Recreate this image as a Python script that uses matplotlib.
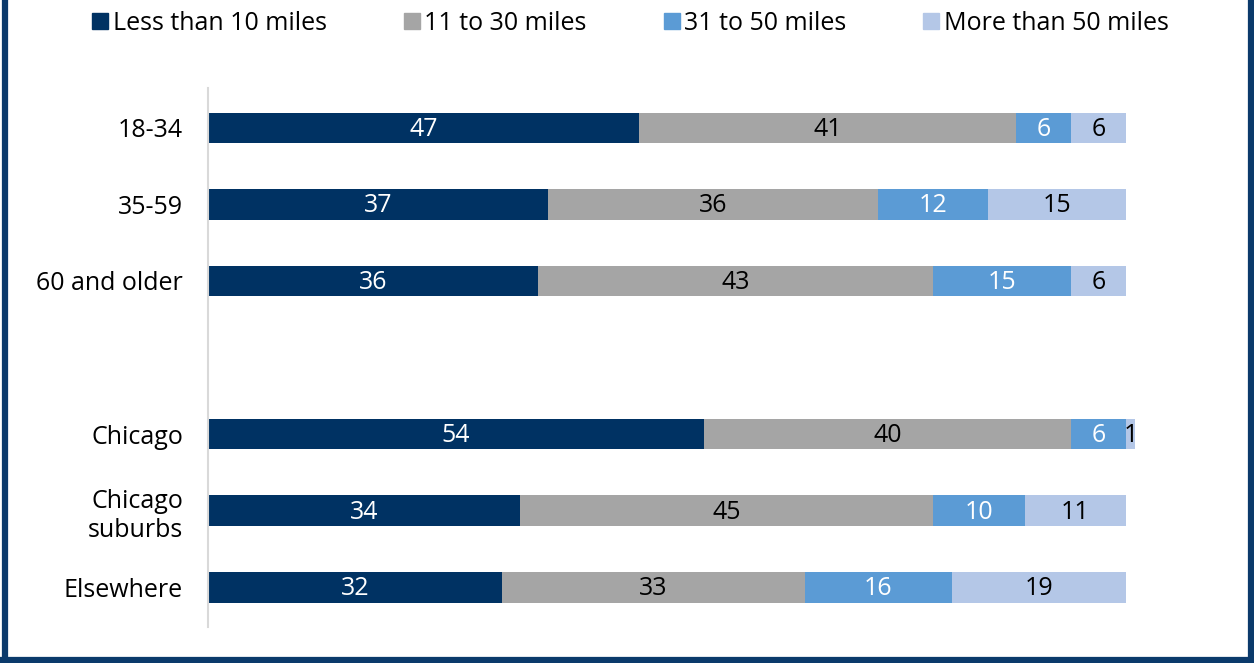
import numpy as np
import matplotlib.pyplot as plt
from matplotlib.lines import Line2D

plt.rcParams['font.family'] = ['Open Sans', 'DejaVu Sans']

categories = ['18-34', '35-59', '60 and older', '', 'Chicago', 'Chicago\nsuburbs', 'Elsewhere']
series_names = ['Less than 10 miles', '11 to 30 miles', '31 to 50 miles', 'More than 50 miles']
less_10 = [47, 37, 36, None, 54, 34, 32]
m11_30 = [41, 36, 43, None, 40, 45, 33]
m31_50 = [6, 12, 15, None, 6, 10, 16]
more_50 = [6, 15, 6, None, 1, 11, 19]

colors = ['#003263', '#a5a5a5', '#5b9bd5', '#b4c7e7']
text_colors = ['white', 'black', 'white', 'black']
fs = 18

W, H = 1254, 663
fig = plt.figure(figsize=(W / 100, H / 100), dpi=100)
ax = fig.add_axes([208 / W, 1 - 627 / H, 918 / W, (627 - 88) / H])

y = np.arange(len(categories))
left = np.zeros(len(categories))
for vals, col, tcol, name in zip([less_10, m11_30, m31_50, more_50], colors, text_colors, series_names):
    v = np.array([np.nan if a is None else a for a in vals], dtype=float)
    bars = ax.barh(y, np.nan_to_num(v), left=left, height=0.4, color=col, label=name)
    for b in bars:
        b.set_clip_on(False)
    for i, val in enumerate(v):
        if not np.isnan(val):
            ax.text(left[i] + val / 2, y[i] + 0.02, f'{int(val)}', ha='center', va='center',
                    color=tcol, fontsize=fs, clip_on=False)
    left += np.nan_to_num(v)

ax.set_xlim(0, 100)
ax.set_ylim(6.52, -0.52)
ax.set_yticks(y)
ax.set_yticklabels(categories, fontsize=fs, linespacing=1.25)
ax.tick_params(axis='y', length=0, pad=18)
ax.set_xticks([])
for s in ['top', 'right', 'bottom']:
    ax.spines[s].set_visible(False)
ax.spines['left'].set_color('#d9d9d9')
ax.spines['left'].set_linewidth(1.5)

handles = [Line2D([], [], marker='s', linestyle='none', markersize=11, color=c) for c in colors]
fig.legend(handles, series_names, loc='center', bbox_to_anchor=(0.503, 1 - 23 / H), ncol=4,
           frameon=False, fontsize=fs, handlelength=0.6, handletextpad=0.2, columnspacing=3.1)

# frame around the figure (left, bottom, right)
bc = '#0b3a6b'
fig.add_artist(Line2D([5 / W, 5 / W], [0, 1], color=bc, lw=4.5, transform=fig.transFigure))
fig.add_artist(Line2D([1 - 3 / W, 1 - 3 / W], [0, 1], color=bc, lw=4.5, transform=fig.transFigure))
fig.add_artist(Line2D([0, 1], [3 / H, 3 / H], color=bc, lw=4.5, transform=fig.transFigure))

fig.savefig('out.png', dpi=100)
